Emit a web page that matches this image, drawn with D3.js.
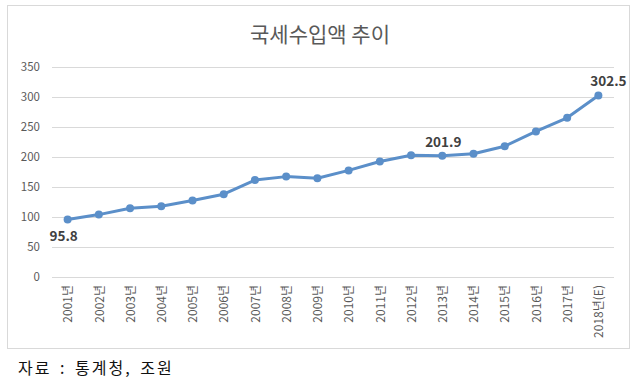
<!DOCTYPE html>
<html><head><meta charset="utf-8">
<script src="https://cdn.jsdelivr.net/npm/d3@7"></script>
<style>body{margin:0;background:#fff}svg{display:block}</style>
</head><body>
<svg id="c" width="640" height="392"></svg>
<script>
const years = ["2001년","2002년","2003년","2004년","2005년","2006년","2007년","2008년","2009년","2010년","2011년","2012년","2013년","2014년","2015년","2016년","2017년","2018년(E)"];
const revenue = [95.8,104.0,114.7,117.8,127.5,138.0,161.5,167.3,164.5,177.7,192.4,203.0,201.9,205.5,217.9,242.6,265.4,302.5];
const yTicks = [0,50,100,150,200,250,300,350];
const labelled = ["2001년","2013년","2018년(E)"];
const title = "국세수입액 추이";
const source = "자료 : 통계청, 조원";

const svg = d3.select("#c");
const font = "'Noto Sans CJK KR','Noto Sans',sans-serif";
svg.append("rect").attr("x",7.5).attr("y",5.5).attr("width",622).attr("height",343)
  .attr("fill","#fff").attr("stroke","#d9d9d9");

const x = d3.scalePoint().domain(years).range([52,614]).padding(0.5);
const y = d3.scaleLinear().domain([0,350]).range([277,67]);

svg.append("text").attr("x",320).attr("y",42).attr("text-anchor","middle")
  .attr("font-family",font).attr("font-size",21).attr("fill","#595959").text(title);

const ya = svg.append("g").attr("transform","translate(52,0)")
  .call(d3.axisLeft(y).tickValues(yTicks).tickSize(-562).tickPadding(12));
ya.select(".domain").remove();
ya.selectAll("line").attr("stroke","#d9d9d9");
ya.selectAll("text").attr("font-family",font).attr("font-size",11.5).attr("fill","#595959");

const xa = svg.append("g").attr("transform","translate(0,277)")
  .call(d3.axisBottom(x).tickSize(0).tickPadding(0));
xa.select(".domain").remove();
xa.selectAll("text").attr("font-family",font).attr("font-size",12).attr("fill","#595959")
  .attr("transform","rotate(-90)").attr("text-anchor","end").attr("dx","-8").attr("dy","0.35em").attr("x",0).attr("y",0);

const pts = years.map((d,i)=>({k:d,v:revenue[i]}));
svg.append("path").datum(pts).attr("fill","none").attr("stroke","#5b8fc9").attr("stroke-width",3)
  .attr("stroke-linejoin","round")
  .attr("d",d3.line().x(d=>x(d.k)).y(d=>y(d.v)));
svg.selectAll("circle.m").data(pts).join("circle").attr("class","m")
  .attr("cx",d=>x(d.k)).attr("cy",d=>y(d.v)).attr("r",4).attr("fill","#5b8fc9");

const offs = {"2001년":[-4,21],"2013년":[1,-9],"2018년(E)":[10,-10]};
svg.selectAll("text.lbl").data(pts.filter(d=>labelled.includes(d.k))).join("text").attr("class","lbl")
  .attr("x",d=>x(d.k)+offs[d.k][0]).attr("y",d=>y(d.v)+offs[d.k][1])
  .attr("text-anchor","middle").attr("font-family",font).attr("font-size",13.5).attr("font-weight","bold")
  .attr("fill","#404040").text(d=>d.v.toFixed(1));

svg.append("text").attr("x",18).attr("y",374).attr("font-family",font).attr("font-size",16)
  .attr("letter-spacing","2px").attr("word-spacing","3px").attr("fill","#111").text(source);
</script>
</body></html>
